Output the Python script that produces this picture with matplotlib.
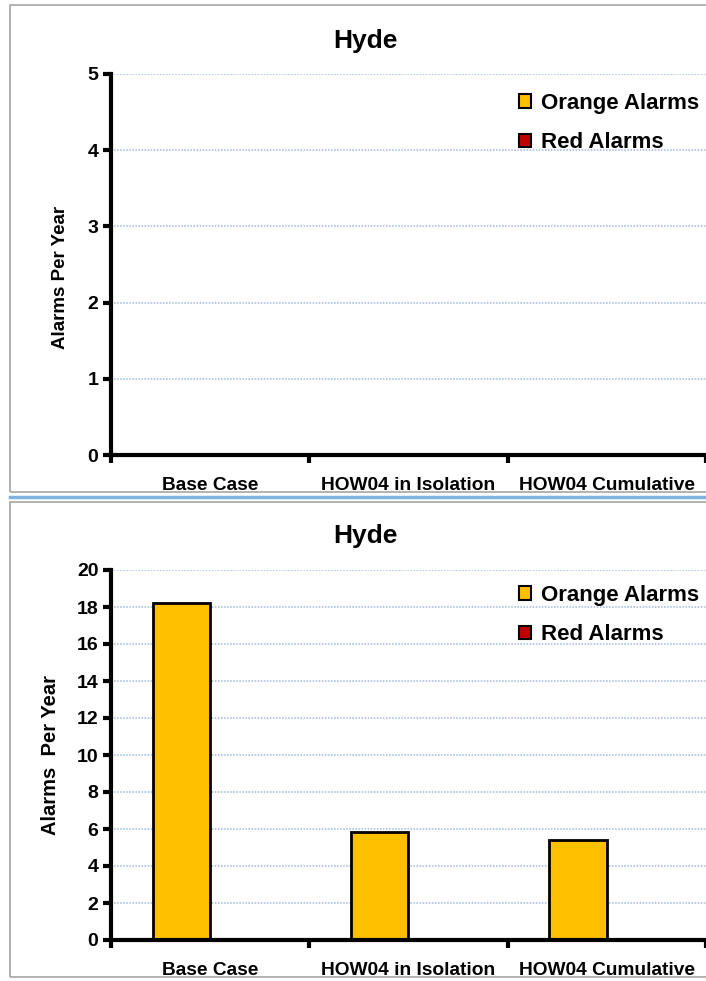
import numpy as np
import matplotlib.pyplot as plt
from matplotlib.patches import Rectangle
from matplotlib.lines import Line2D

categories = ["Base Case", "HOW04 in Isolation", "HOW04 Cumulative"]

# upper chart: no alarms in any case
top_orange = [0, 0, 0]
top_red = [0, 0, 0]
top_yticks = [0, 1, 2, 3, 4, 5]

# lower chart
bottom_orange = [18.2, 5.85, 5.42]
bottom_red = [0, 0, 0]
bottom_yticks = [0, 2, 4, 6, 8, 10, 12, 14, 16, 18, 20]

plt.rcParams.update({
    "font.family": ["Liberation Sans", "DejaVu Sans"],
    "font.weight": "bold",
})

ORANGE = "#FFC000"
RED = "#C00000"
GRID = "#9DB9E0"

W, H = 706, 981
fig = plt.figure(figsize=(W / 100, H / 100), dpi=100)


def fx(px):
    return px / W


def fy(py):
    return 1 - py / H


# panel frames and separator
for y0, y1 in [(5, 492), (502, 977)]:
    fig.add_artist(Rectangle((fx(10), fy(y1)), fx(720 - 10), fy(y0) - fy(y1),
                             transform=fig.transFigure, fill=False,
                             edgecolor="#A6A6A6", linewidth=1.2))
fig.add_artist(Line2D([fx(10), 1], [fy(497), fy(497)], transform=fig.transFigure,
                      color="#7FB3E0", linewidth=2.5))


def draw_panel(rect, orange, red, yticks, ylabel, label_xy, label_size,
               title_y, legend_y):
    ax = fig.add_axes(rect)
    x = np.arange(len(categories))
    width = 0.29
    ax.bar(x - width / 2, orange, width, color=ORANGE, edgecolor="black",
           linewidth=2, label="Orange Alarms", zorder=3)
    ax.bar(x + width / 2, red, width, color=RED, edgecolor="black",
           linewidth=2, label="Red Alarms", zorder=3)

    ax.set_xlim(-0.5, len(categories) - 0.5)
    ax.set_ylim(yticks[0], yticks[-1])
    ax.set_yticks(yticks)
    ax.set_xticks(np.arange(len(categories) + 1) - 0.5)
    ax.set_xticklabels([])
    ax.set_xticks(x, minor=True)
    ax.set_xticklabels(categories, minor=True, fontsize=13.8, fontweight="bold")
    ax.tick_params(axis="x", which="minor", length=0, pad=16)
    ax.tick_params(axis="x", which="major", direction="out", length=6, width=3)
    ax.tick_params(axis="y", direction="out", length=6, width=3,
                   labelsize=14, pad=3)
    for lab in ax.get_yticklabels():
        lab.set_fontweight("bold")

    ax.grid(axis="y", color=GRID, linestyle=(0, (1, 1)), linewidth=1.1)
    ax.set_axisbelow(True)
    for side in ["top", "right"]:
        ax.spines[side].set_visible(False)
    for side in ["left", "bottom"]:
        ax.spines[side].set_linewidth(3)
        ax.spines[side].set_zorder(4)

    ax.set_ylabel(ylabel, fontsize=label_size, fontweight="bold")
    ax.yaxis.set_label_coords(*label_xy)
    ax.yaxis.label.set_va("center")
    fig.text(fx(365), fy(title_y), "Hyde", ha="center", va="center",
             fontsize=19, fontweight="bold")

    leg = ax.legend(loc="upper left", bbox_to_anchor=(fx(510), fy(legend_y)),
                    bbox_transform=fig.transFigure, frameon=False,
                    prop={"size": 16, "weight": "bold"},
                    handlelength=0.55, handleheight=0.55, handletextpad=0.45,
                    labelspacing=0.82, borderaxespad=0)
    for h in leg.legend_handles:
        h.set_linewidth(1.5)
    return ax


draw_panel([fx(111), fy(455), fx(706 - 111), fy(74) - fy(455)],
           top_orange, top_red, top_yticks, "Alarms Per Year",
           (-0.0857, 0.467), 13.5, 41, 84)
draw_panel([fx(111), fy(940), fx(706 - 111), fy(570) - fy(940)],
           bottom_orange, bottom_red, bottom_yticks, "Alarms  Per Year",
           (-0.1025, 0.5), 14.5, 536, 576)

fig.savefig("out.png", dpi=100)
